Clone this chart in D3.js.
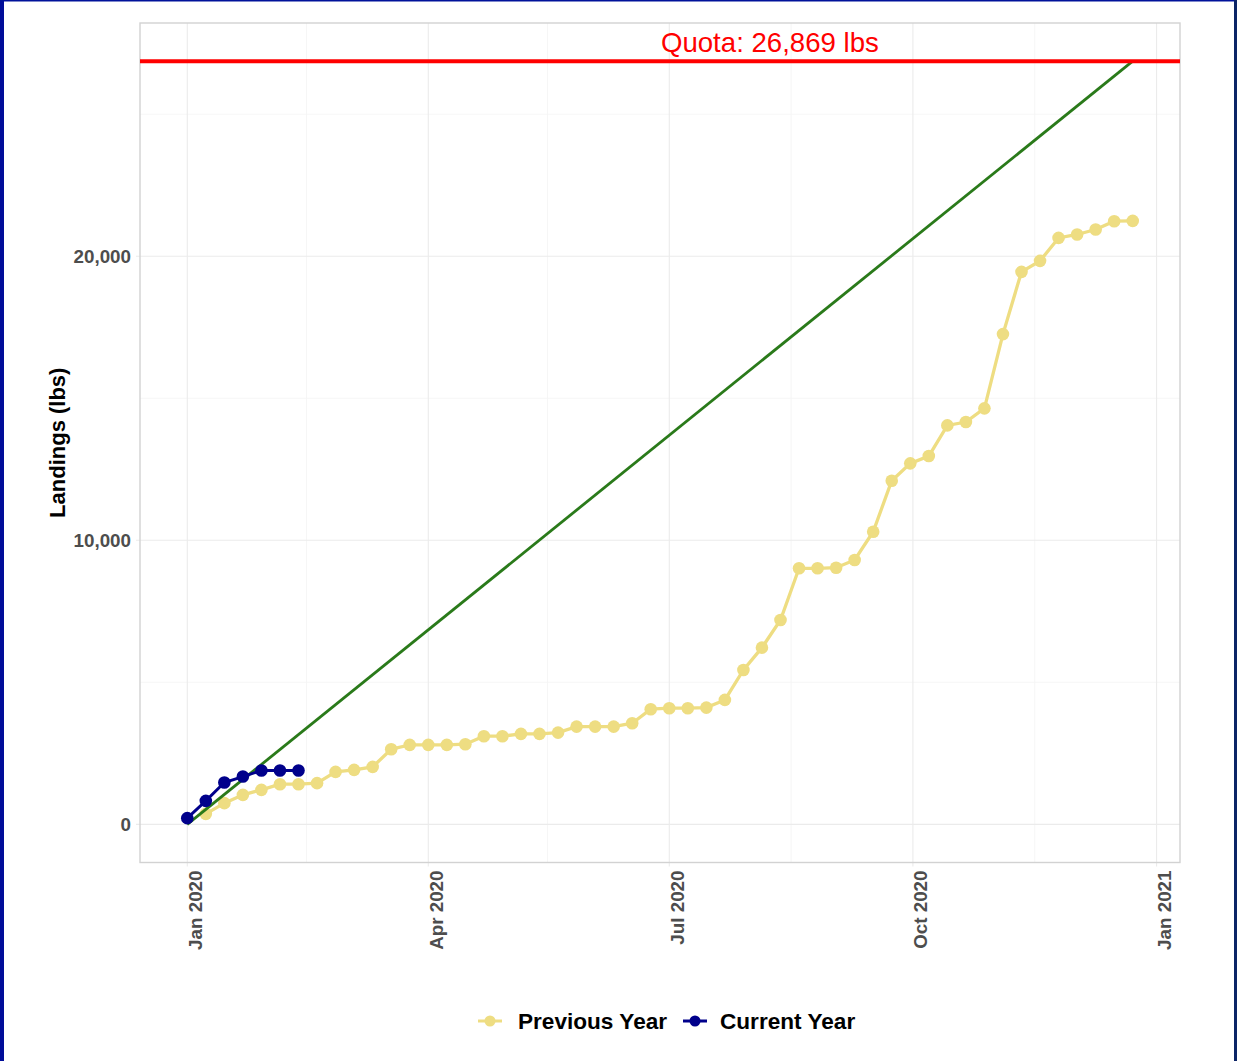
<!DOCTYPE html>
<html>
<head>
<meta charset="utf-8">
<script src="https://cdn.jsdelivr.net/npm/d3@7"></script>
<style>
  body { margin: 0; background: #fff; }
  svg { display: block; font-family: "Liberation Sans", Arial, sans-serif; }
  .grid-major { stroke: #ebebeb; stroke-width: 1.1; }
  .grid-minor { stroke: #f4f4f4; stroke-width: 0.8; }
  .tick-label { fill: #4d4d4d; font-weight: bold; font-size: 18.8px; }
</style>
</head>
<body>
<svg id="chart"></svg>
<script>
// Chart data
const quota = 26869;

const prevDates = [
  '2020-01-08', '2020-01-15', '2020-01-22', '2020-01-29',
  '2020-02-05', '2020-02-12', '2020-02-19', '2020-02-26',
  '2020-03-04', '2020-03-11', '2020-03-18', '2020-03-25',
  '2020-04-01', '2020-04-08', '2020-04-15', '2020-04-22', '2020-04-29',
  '2020-05-06', '2020-05-13', '2020-05-20', '2020-05-27',
  '2020-06-03', '2020-06-10', '2020-06-17', '2020-06-24',
  '2020-07-01', '2020-07-08', '2020-07-15', '2020-07-22', '2020-07-29',
  '2020-08-05', '2020-08-12', '2020-08-19', '2020-08-26',
  '2020-09-02', '2020-09-09', '2020-09-16', '2020-09-23', '2020-09-30',
  '2020-10-07', '2020-10-14', '2020-10-21', '2020-10-28',
  '2020-11-04', '2020-11-11', '2020-11-18', '2020-11-25',
  '2020-12-02', '2020-12-09', '2020-12-16', '2020-12-23'
];
const prevValues = [
  370, 746, 1038, 1214,
  1414, 1414, 1450, 1847,
  1918, 2023, 2646, 2797,
  2797, 2797, 2822, 3103, 3103,
  3184, 3184, 3230, 3441,
  3441, 3441, 3561, 4053,
  4089, 4089, 4110, 4381, 5436,
  6221, 7196, 9015, 9015,
  9036, 9307, 10303, 12097, 12709,
  12966, 14046, 14163, 14645,
  17259, 19451, 19838, 20647,
  20767, 20943, 21235, 21245
];

const currDates = ['2020-01-01', '2020-01-08', '2020-01-15', '2020-01-22', '2020-01-29', '2020-02-05', '2020-02-12'];
const currValues = [218, 827, 1471, 1682, 1893, 1893, 1893];

// straight line from zero to the quota
const targetDates = ['2020-01-01', '2020-12-23'];
const targetValues = [0, quota];

const xTicks = ['2020-01-01', '2020-04-01', '2020-07-01', '2020-10-01', '2021-01-01'];
const xTickLabels = ['Jan 2020', 'Apr 2020', 'Jul 2020', 'Oct 2020', 'Jan 2021'];
const xMinorTicks = ['2020-02-15', '2020-05-16', '2020-08-16', '2020-11-16'];
const yTicks = [0, 10000, 20000];
const yMinorTicks = [5000, 15000, 25000];

const seriesNames = ['Previous Year', 'Current Year'];
const seriesColors = ['#eedd82', '#00008b'];

const CONFIG = {
    width: 1237,
    height: 1061,
    panel: { left: 140, right: 1180, top: 23, bottom: 862.5 }
};

const parse = d3.utcParse('%Y-%m-%d');
const P = CONFIG.panel;

const svg = d3.select('#chart')
    .attr('width', CONFIG.width)
    .attr('height', CONFIG.height);

// ggplot style 5% expansion on both axes
const xMin = parse(targetDates[0]);
const xMax = parse(prevDates[prevDates.length - 1]);
const xPad = (xMax - xMin) * 0.05;
const x = d3.scaleUtc()
    .domain([new Date(+xMin - xPad), new Date(+xMax + xPad)])
    .range([P.left, P.right]);

const yPad = quota * 0.05;
const y = d3.scaleLinear()
    .domain([-yPad, quota + yPad])
    .range([P.bottom, P.top]);

// Gridlines
const grid = svg.append('g');
grid.selectAll('.gx-minor').data(xMinorTicks).enter().append('line')
    .attr('class', 'grid-minor')
    .attr('x1', d => x(parse(d))).attr('x2', d => x(parse(d)))
    .attr('y1', P.top).attr('y2', P.bottom);
grid.selectAll('.gy-minor').data(yMinorTicks).enter().append('line')
    .attr('class', 'grid-minor')
    .attr('x1', P.left).attr('x2', P.right)
    .attr('y1', d => y(d)).attr('y2', d => y(d));
grid.selectAll('.gx-major').data(xTicks).enter().append('line')
    .attr('class', 'grid-major')
    .attr('x1', d => x(parse(d))).attr('x2', d => x(parse(d)))
    .attr('y1', P.top).attr('y2', P.bottom + 4);
grid.selectAll('.gy-major').data(yTicks).enter().append('line')
    .attr('class', 'grid-major')
    .attr('x1', P.left - 4).attr('x2', P.right)
    .attr('y1', d => y(d)).attr('y2', d => y(d));

// Panel border
svg.append('rect')
    .attr('x', P.left).attr('y', P.top)
    .attr('width', P.right - P.left).attr('height', P.bottom - P.top)
    .attr('fill', 'none')
    .attr('stroke', '#d2d2d2')
    .attr('stroke-width', 1.4);

const line = d3.line()
    .x(d => x(d.date))
    .y(d => y(d.value));

const prevData = prevDates.map((d, i) => ({ date: parse(d), value: prevValues[i] }));
const currData = currDates.map((d, i) => ({ date: parse(d), value: currValues[i] }));
const targetData = targetDates.map((d, i) => ({ date: parse(d), value: targetValues[i] }));

// Previous year
svg.append('path')
    .datum(prevData)
    .attr('d', line)
    .attr('fill', 'none')
    .attr('stroke', seriesColors[0])
    .attr('stroke-width', 3.3);
svg.selectAll('.prev-pt').data(prevData).enter().append('circle')
    .attr('cx', d => x(d.date)).attr('cy', d => y(d.value))
    .attr('r', 6.3)
    .attr('fill', seriesColors[0]);

// Target line
svg.append('path')
    .datum(targetData)
    .attr('d', line)
    .attr('fill', 'none')
    .attr('stroke', '#2a7a1a')
    .attr('stroke-width', 2.8);

// Current year
svg.append('path')
    .datum(currData)
    .attr('d', line)
    .attr('fill', 'none')
    .attr('stroke', seriesColors[1])
    .attr('stroke-width', 2.9);
svg.selectAll('.curr-pt').data(currData).enter().append('circle')
    .attr('cx', d => x(d.date)).attr('cy', d => y(d.value))
    .attr('r', 6.3)
    .attr('fill', seriesColors[1]);

// Quota line and label
svg.append('line')
    .attr('x1', P.left).attr('x2', P.right)
    .attr('y1', y(quota)).attr('y2', y(quota))
    .attr('stroke', '#ff0000')
    .attr('stroke-width', 4);
svg.append('text')
    .attr('x', x(parse('2020-08-08')))
    .attr('y', y(quota) - 9)
    .attr('text-anchor', 'middle')
    .attr('fill', '#ff0000')
    .style('font-size', '27.6px')
    .text('Quota: ' + d3.format(',')(quota) + ' lbs');

// Y axis labels
svg.selectAll('.ylab').data(yTicks).enter().append('text')
    .attr('class', 'tick-label')
    .attr('x', P.left - 9)
    .attr('y', d => y(d))
    .attr('dy', '0.35em')
    .attr('text-anchor', 'end')
    .text(d => d3.format(',')(d));

// X axis labels (rotated)
svg.selectAll('.xlab').data(xTicks).enter().append('text')
    .attr('class', 'tick-label')
    .attr('text-anchor', 'end')
    .attr('transform', d => `translate(${x(parse(d)) + 14.5},${P.bottom + 8}) rotate(-90)`)
    .text((d, i) => xTickLabels[i]);

// Y axis title
svg.append('text')
    .attr('transform', `translate(65,${(P.top + P.bottom) / 2}) rotate(-90)`)
    .attr('text-anchor', 'middle')
    .style('font-size', '22px')
    .style('font-weight', 'bold')
    .attr('fill', '#000')
    .text('Landings (lbs)');

// Legend
const legendY = 1021;
const legendItems = [
    { name: seriesNames[0], color: seriesColors[0], keyX: 490, textX: 518 },
    { name: seriesNames[1], color: seriesColors[1], keyX: 695, textX: 720 }
];
const legend = svg.append('g');
legendItems.forEach(item => {
    legend.append('line')
        .attr('x1', item.keyX - 12).attr('x2', item.keyX + 12)
        .attr('y1', legendY).attr('y2', legendY)
        .attr('stroke', item.color)
        .attr('stroke-width', 3);
    legend.append('circle')
        .attr('cx', item.keyX).attr('cy', legendY)
        .attr('r', 5.5)
        .attr('fill', item.color);
    legend.append('text')
        .attr('x', item.textX).attr('y', legendY)
        .attr('dy', '0.35em')
        .style('font-size', '22.6px')
        .style('font-weight', 'bold')
        .attr('fill', '#000')
        .text(item.name);
});

// Blue slide frame
svg.append('rect').attr('x', 0).attr('y', 0).attr('width', 4).attr('height', CONFIG.height).attr('fill', '#000d99');
svg.append('rect').attr('x', 0).attr('y', 0).attr('width', CONFIG.width).attr('height', 1.5).attr('fill', '#00129a');
svg.append('rect').attr('x', CONFIG.width - 3).attr('y', 0).attr('width', 3).attr('height', CONFIG.height).attr('fill', '#0b2466');
</script>
</body>
</html>
